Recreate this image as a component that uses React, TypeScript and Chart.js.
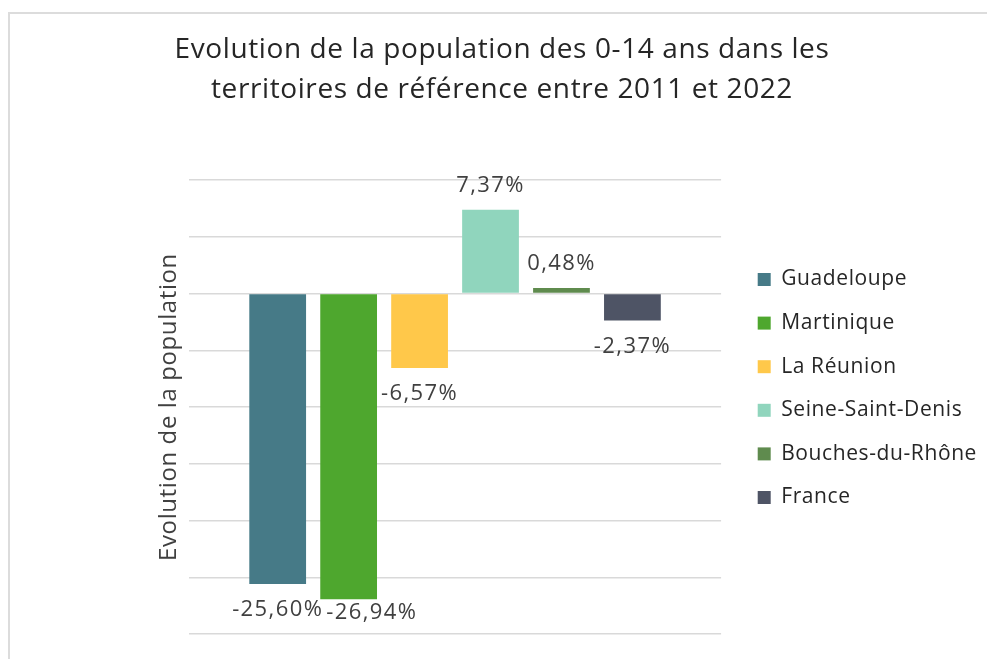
import React, { useEffect, useRef } from "react";
import { Chart, registerables } from "chart.js";

Chart.register(...registerables);

const categories = ["Guadeloupe", "Martinique", "La Réunion", "Seine-Saint-Denis", "Bouches-du-Rhône", "France"];
const values = [-25.6, -26.94, -6.57, 7.37, 0.48, -2.37];
const colors = ["#467A87", "#4EA72E", "#FFC84A", "#90D5BD", "#5F8B4E", "#4E5465"];
const yMin = -30;
const yMax = 10;
const yStep = 5;
const titleLines = ["Evolution de la population des 0-14 ans dans les", "territoires de référence entre 2011 et 2022"];
const axisTitle = "Evolution de la population";

const FONT = "'Open Sans', 'Noto Sans', sans-serif";

const fmt = (v: number) => v.toFixed(2).replace(".", ",") + "%";

const spacing = {
  id: "spacing",
  beforeUpdate(chart: any) {
    chart.ctx.letterSpacing = "0.6px";
  },
  beforeDraw(chart: any) {
    chart.ctx.letterSpacing = "0.6px";
  },
};

const valueLabels = {
  id: "valueLabels",
  afterDatasetsDraw(chart: any) {
    const ctx = chart.ctx;
    const area = chart.chartArea;
    ctx.save();
    ctx.letterSpacing = "1.4px";
    ctx.font = `22px ${FONT}`;
    ctx.fillStyle = "#404040";
    ctx.textAlign = "center";
    ctx.textBaseline = "middle";
    const placed: { l: number; r: number; cy: number }[] = [];
    chart.data.datasets.forEach((ds: any, i: number) => {
      const bar = chart.getDatasetMeta(i).data[0];
      const v = ds.data[0];
      const text = fmt(v);
      const w = ctx.measureText(text).width;
      const cy = v >= 0 ? bar.y - 24 : Math.min(bar.y + 26, area.bottom - 21);
      let l = bar.x - w / 2;
      for (const p of placed) {
        if (Math.abs(p.cy - cy) < 20 && l < p.r + 3 && l + w > p.l) l = p.r + 3;
      }
      placed.push({ l, r: l + w, cy });
      ctx.fillText(text, l + w / 2, cy);
    });
    ctx.restore();
  },
};

export default function App() {
  const ref = useRef<HTMLCanvasElement>(null);
  useEffect(() => {
    if (!ref.current) return;
    Chart.defaults.font.family = FONT;
    const chart = new Chart(ref.current, {
      type: "bar",
      data: {
        labels: [""],
        datasets: categories.map((c, i) => ({
          label: c,
          data: [values[i]],
          backgroundColor: colors[i],
          borderWidth: 0,
          categoryPercentage: 0.8,
          barPercentage: 0.8,
        })),
      },
      options: {
        animation: false,
        responsive: false,
        layout: { padding: { left: 17, right: 0, top: 0, bottom: 25 } },
        plugins: {
          tooltip: { enabled: false },
          title: {
            display: true,
            text: titleLines,
            color: "#262626",
            font: { size: 28, weight: "normal", lineHeight: 40 / 28, family: FONT },
            padding: { top: 30, bottom: 70 },
          },
          legend: {
            position: "right",
            align: "start",
            maxWidth: 400,
            title: { display: true, text: "", font: { size: 1, lineHeight: 1 }, padding: { top: 245.4, bottom: 0 } },
            labels: {
              boxWidth: 13,
              boxHeight: 13,
              padding: 22.6,
              color: "#262626",
              font: { size: 21, family: FONT },
            },
          },
        },
        scales: {
          x: { display: false },
          y: {
            min: yMin,
            max: yMax,
            ticks: { stepSize: yStep, display: false },
            grid: { color: "#d9d9d9", lineWidth: 1.5, drawTicks: false },
            border: { display: false },
            title: {
              display: true,
              text: axisTitle,
              color: "#404040",
              font: { size: 24, family: FONT, lineHeight: 1.2 },
              padding: { top: 137.6, bottom: 5.6 },
            },
          },
          yR: {
            type: "linear",
            position: "right",
            display: true,
            ticks: { display: false },
            grid: { display: false, drawTicks: false },
            border: { display: false },
            afterFit: (s: any) => {
              s.width = 14;
            },
          },
        },
      },
      plugins: [spacing, valueLabels],
    } as any);
    return () => chart.destroy();
  }, []);
  return (
    <>
      <div
        style={{
          position: "fixed",
          left: 8,
          top: 12,
          width: 1200,
          height: 900,
          border: "2px solid #dcdcdc",
          boxSizing: "border-box",
        }}
      />
      <div style={{ position: "fixed", left: 0, top: 0, width: 987, height: 659 }}>
        <canvas ref={ref} width={987} height={659} style={{ width: 987, height: 659, display: "block" }} />
      </div>
    </>
  );
}
